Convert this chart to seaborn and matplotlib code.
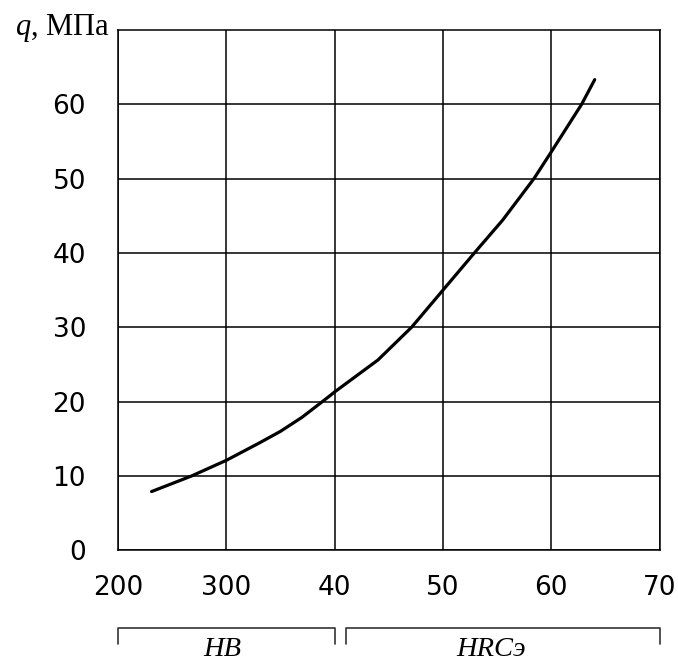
import numpy as np
import pandas as pd
import seaborn as sns
import matplotlib.pyplot as plt
from matplotlib.lines import Line2D

# HB part of the curve, then HRCэ part
hb_vals = [231, 268, 300, 330, 350, 370, 394, 400]
hb_q = [7.9, 10.0, 12.1, 14.4, 16.0, 17.9, 20.6, 21.3]
hrc_vals = [44, 47.1, 50, 52.9, 55.5, 58.4, 60, 62.8, 64]
hrc_q = [25.6, 30.0, 35.0, 40.0, 44.4, 50.0, 53.6, 60.0, 63.3]

tick_labels = ['200', '300', '40', '50', '60', '70']


# shared axis: 200..400 HB occupies 0..2, 40..70 HRC occupies 2..5
def hb_pos(v):
    return (np.asarray(v, dtype=float) - 200) / 100


def hrc_pos(v):
    return 2 + (np.asarray(v, dtype=float) - 40) / 10


df = pd.DataFrame({
    'pos': np.concatenate([hb_pos(hb_vals), hrc_pos(hrc_vals)]),
    'q': hb_q + hrc_q,
})

sns.set_style('white')
plt.rcParams['font.family'] = ['DejaVu Sans']
plt.rcParams['mathtext.fontset'] = 'custom'
plt.rcParams['mathtext.it'] = 'Liberation Serif:italic'
plt.rcParams['mathtext.rm'] = 'Liberation Serif'

fig = plt.figure(figsize=(6.78, 6.63), dpi=100)
ax = fig.add_axes([0.174, 0.170, 0.799, 0.785])

sns.lineplot(data=df, x='pos', y='q', color='black', linewidth=2.3, ax=ax, sort=True)

ax.set_xlim(0, 5)
ax.set_ylim(0, 70)
ax.set_xticks(range(6))
ax.set_xticklabels(tick_labels)
ax.set_yticks(range(0, 61, 10))
ax.grid(True, color='black', linewidth=1.1)
ax.set_axisbelow(True)
for s in ax.spines.values():
    s.set_color('black')
    s.set_linewidth(1.1)
ax.tick_params(axis='both', length=7, width=1.1, color='black',
               labelsize=19, labelcolor='black', direction='out')
ax.tick_params(axis='x', pad=11)
ax.tick_params(axis='y', pad=16)
ax.set_xlabel('')
ax.set_ylabel('')

# y axis title
ax.text(-0.015, 0.990, r'$q$, МПа', transform=ax.transAxes, ha='right', va='baseline',
        fontsize=22, family='Liberation Serif', color='black')

# brackets under the scale
y0, y1 = -0.150, -0.181
for x0, x1 in [(0.0, 0.400), (0.421, 1.0)]:
    ax.add_line(Line2D([x0, x0, x1, x1], [y1, y0, y0, y1], transform=ax.transAxes,
                       color='#333333', linewidth=1.2, clip_on=False))
ax.text(0.192, -0.203, 'HB', transform=ax.transAxes, ha='center', va='baseline',
        fontsize=20.5, family='Liberation Serif', fontstyle='italic', color='black')
ax.text(0.689, -0.203, 'HRCэ', transform=ax.transAxes, ha='center', va='baseline',
        fontsize=20.5, family='Liberation Serif', fontstyle='italic', color='black')

fig.savefig('out.png', dpi=100)
